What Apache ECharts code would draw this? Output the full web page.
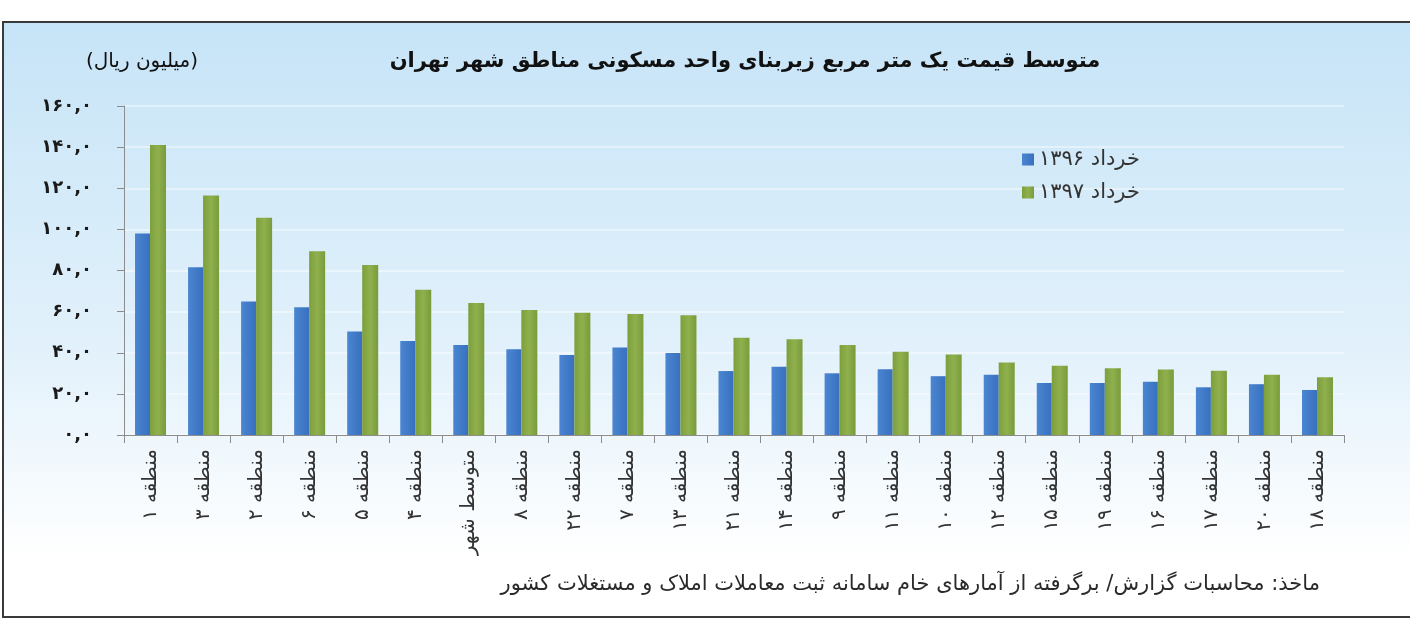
<!DOCTYPE html>
<html lang="fa">
<head>
    <meta charset="UTF-8">
    <title>متوسط قیمت یک متر مربع زیربنای واحد مسکونی</title>
    <script src="https://cdn.jsdelivr.net/npm/echarts@6.0.0/dist/echarts.min.js"></script>
    <style>
        html, body { margin: 0; padding: 0; background: #ffffff; }
        #chart { width: 1410px; height: 619px; }
    </style>
</head>
<body>
    <div id="chart"></div>
    <script>
        // مناطق به ترتیب نمودار
        const regions = ['منطقه ۱', 'منطقه ۳', 'منطقه ۲', 'منطقه ۶', 'منطقه ۵', 'منطقه ۴', 'متوسط شهر',
            'منطقه ۸', 'منطقه ۲۲', 'منطقه ۷', 'منطقه ۱۳', 'منطقه ۲۱', 'منطقه ۱۴', 'منطقه ۹', 'منطقه ۱۱',
            'منطقه ۱۰', 'منطقه ۱۲', 'منطقه ۱۵', 'منطقه ۱۹', 'منطقه ۱۶', 'منطقه ۱۷', 'منطقه ۲۰', 'منطقه ۱۸'];
        const khordad96 = [98.0, 81.6, 64.9, 62.1, 50.3, 45.7, 43.8, 41.7, 38.9, 42.5, 39.9, 31.1,
            33.2, 30.0, 32.0, 28.6, 29.3, 25.3, 25.3, 25.9, 23.2, 24.7, 21.9];
        const khordad97 = [141.0, 116.5, 105.7, 89.4, 82.7, 70.6, 64.2, 60.8, 59.5, 58.9, 58.2, 47.3,
            46.6, 43.8, 40.5, 39.1, 35.2, 33.7, 32.5, 31.8, 31.3, 29.3, 28.1];
        const seriesNames = ['خرداد ۱۳۹۶', 'خرداد ۱۳۹۷'];
        const yTicks = [0, 20, 40, 60, 80, 100, 120, 140, 160];

        const faDigits = '۰۱۲۳۴۵۶۷۸۹';
        function toFa(v) {
            return v.toFixed(1).replace('.', ',').replace(/\d/g, d => faDigits[d]);
        }

        const font = 'DejaVu Sans';
        const chart = echarts.init(document.getElementById('chart'));

        const option = {
            animation: false,
            textStyle: { fontFamily: font },
            graphic: [
                {
                    type: 'rect',
                    z: -10,
                    shape: { x: 3, y: 22, width: 1420, height: 595 },
                    style: {
                        fill: new echarts.graphic.LinearGradient(0, 0, 0, 1, [
                            { offset: 0, color: '#c6e4f7' },
                            { offset: 0.55, color: '#e2f1fb' },
                            { offset: 0.9, color: '#ffffff' },
                            { offset: 1, color: '#ffffff' }
                        ]),
                        stroke: '#3a3a3a',
                        lineWidth: 2
                    }
                },
                {
                    type: 'text',
                    x: 1320,
                    y: 585,
                    style: {
                        text: 'ماخذ: محاسبات گزارش/ برگرفته از آمارهای خام سامانه ثبت معاملات املاک و مستغلات کشور',
                        fill: '#2a2a2a',
                        font: '21px "DejaVu Sans"',
                        align: 'right',
                        verticalAlign: 'middle'
                    }
                }
            ],
            title: [
                {
                    text: 'متوسط قیمت یک متر مربع زیربنای واحد مسکونی مناطق شهر تهران',
                    left: 740,
                    top: 46,
                    textAlign: 'center',
                    textStyle: { fontFamily: font, fontSize: 21, fontWeight: 'bold', color: '#111' }
                },
                {
                    text: '(میلیون ریال)',
                    left: 137,
                    top: 47,
                    textAlign: 'center',
                    textStyle: { fontFamily: font, fontSize: 20, fontWeight: 'normal', color: '#111' }
                }
            ],
            legend: {
                orient: 'vertical',
                left: 1017,
                top: 144,
                itemWidth: 12,
                itemHeight: 12,
                itemGap: 12,
                icon: 'rect',
                data: seriesNames,
                textStyle: { fontFamily: font, fontSize: 21, color: '#333' }
            },
            grid: { left: 124, right: 66, top: 106, bottom: 184 },
            xAxis: {
                type: 'category',
                data: regions,
                axisLine: { lineStyle: { color: '#8c8c8c', width: 1 } },
                axisTick: { show: true, length: 8, lineStyle: { color: '#8c8c8c' } },
                axisLabel: {
                    rotate: 90,
                    interval: 0,
                    margin: 14,
                    fontFamily: font,
                    fontSize: 20,
                    color: '#333'
                }
            },
            yAxis: {
                type: 'value',
                min: yTicks[0],
                max: yTicks[yTicks.length - 1],
                interval: 20,
                axisLine: { show: true, lineStyle: { color: '#8c8c8c' } },
                axisTick: { show: true, length: 7, lineStyle: { color: '#8c8c8c' } },
                splitLine: { lineStyle: { color: 'rgba(255,255,255,0.55)', width: 1.5 } },
                axisLabel: {
                    margin: 32,
                    fontFamily: font,
                    fontSize: 18,
                    fontWeight: 'bold',
                    color: '#1a1a1a',
                    formatter: v => toFa(v)
                }
            },
            series: [
                {
                    name: seriesNames[0],
                    type: 'bar',
                    barWidth: 15,
                    barGap: '0%',
                    itemStyle: {
                        color: new echarts.graphic.LinearGradient(0, 0, 1, 0, [
                            { offset: 0, color: '#4b86d2' },
                            { offset: 1, color: '#3870be' }
                        ])
                    },
                    data: khordad96
                },
                {
                    name: seriesNames[1],
                    type: 'bar',
                    barWidth: 16,
                    itemStyle: {
                        color: new echarts.graphic.LinearGradient(0, 0, 1, 0, [
                            { offset: 0, color: '#7c9f3c' },
                            { offset: 0.5, color: '#8fb04d' },
                            { offset: 1, color: '#7a9b3b' }
                        ])
                    },
                    data: khordad97
                }
            ]
        };

        chart.setOption(option);
        window.addEventListener('resize', () => chart.resize());
    </script>
</body>
</html>
